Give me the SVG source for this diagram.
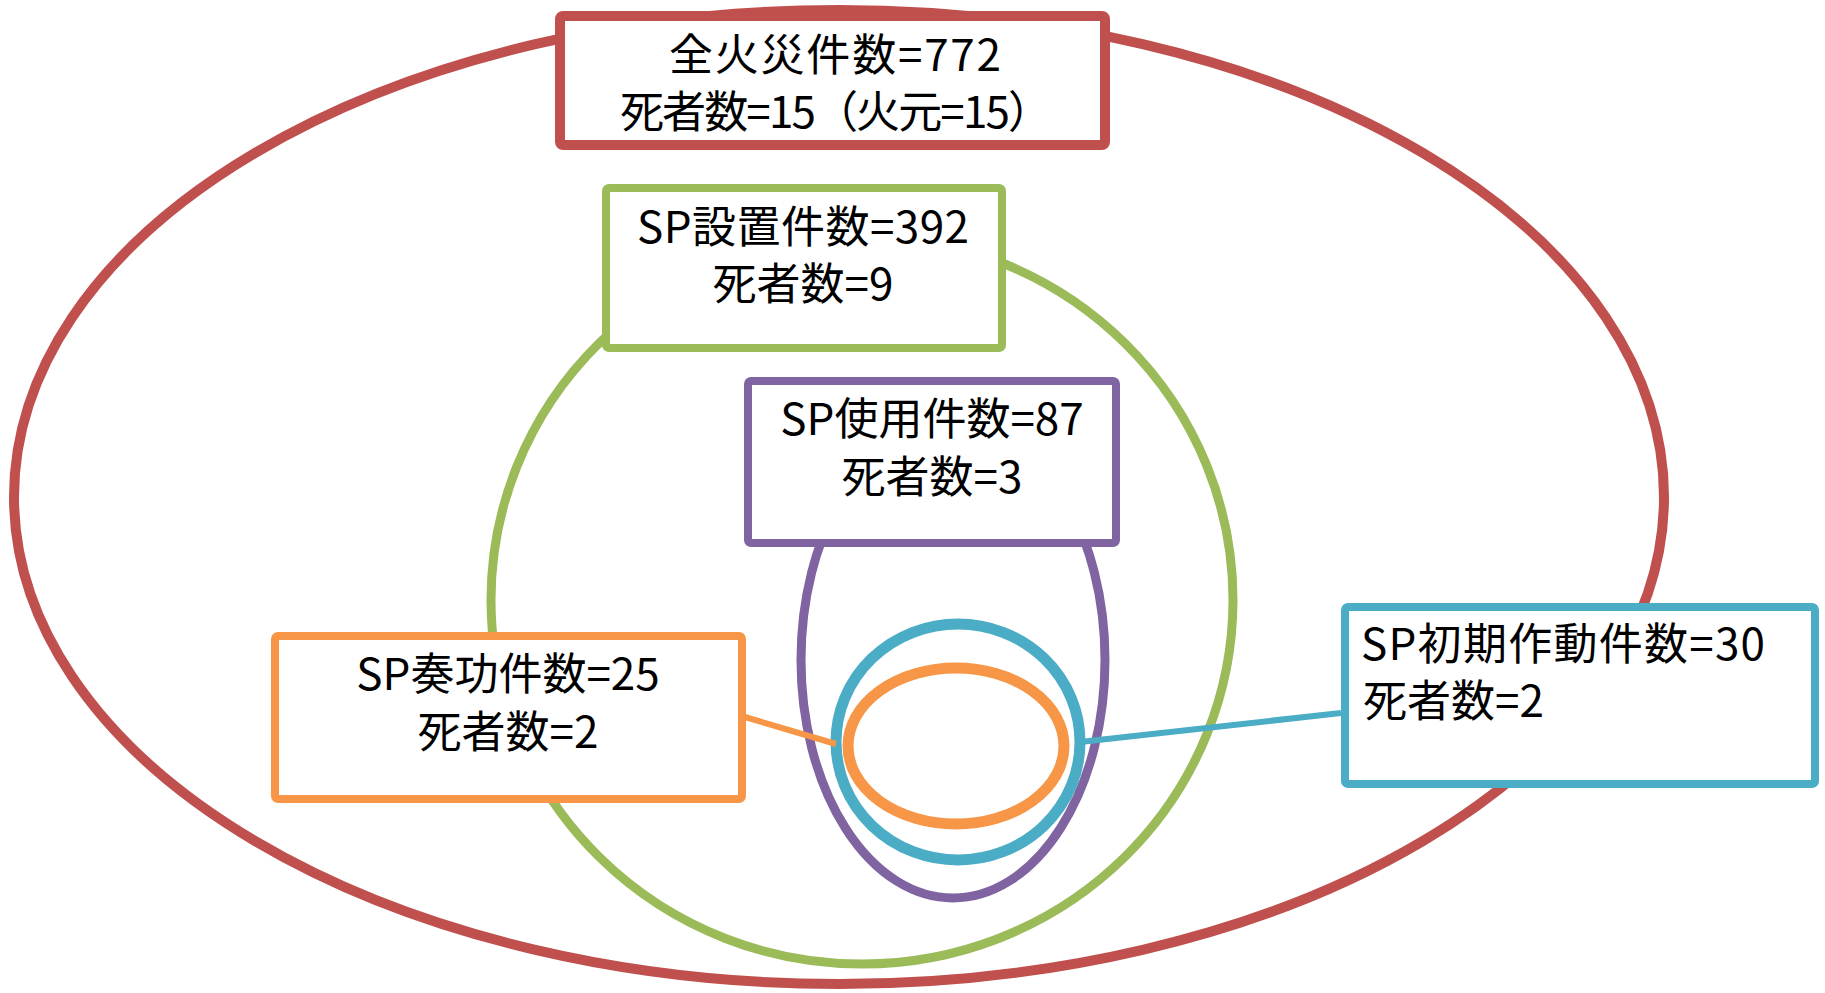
<svg xmlns="http://www.w3.org/2000/svg" width="1825" height="993" viewBox="0 0 1825 993">
<style>
.box{fill:#fff;}
.t{font-family:"Noto Sans CJK JP","Noto Sans CJK SC",sans-serif;font-size:44px;fill:#000;}
.c{text-anchor:middle;}
.red{stroke:#C0504D;}
.green{stroke:#9BBB59;}
.purple{stroke:#8064A2;}
.blue{stroke:#4BACC6;}
.orange{stroke:#F79646;}
.ring{fill:none;}
</style>
<rect width="1825" height="993" fill="#fff"/>
<g id="all-fires">
<ellipse class="ring red" cx="839" cy="497" rx="825" ry="487" stroke-width="10"/>
<rect class="box red" x="560" y="16" width="545" height="129" rx="3" stroke-width="10"/>
<text class="t c" x="835" y="71" textLength="332" lengthAdjust="spacing">全火災件数=772</text>
<text class="t c" x="836" y="128" textLength="432" lengthAdjust="spacing">死者数=15（火元=15）</text>
</g>
<g id="sp-installed">
<ellipse class="ring green" cx="862" cy="600" rx="371" ry="364" stroke-width="9"/>
<rect class="box green" x="606" y="188" width="396" height="160" rx="3" stroke-width="8"/>
<text class="t c" x="803" y="243" textLength="332" lengthAdjust="spacing">SP設置件数=392</text>
<text class="t c" x="803" y="300">死者数=9</text>
</g>
<g id="sp-used">
<ellipse class="ring purple" cx="953" cy="660" rx="152" ry="238" stroke-width="9"/>
<rect class="box purple" x="748" y="381" width="368" height="162" rx="3" stroke-width="8"/>
<text class="t c" x="932" y="435">SP使用件数=87</text>
<text class="t c" x="932" y="493">死者数=3</text>
</g>
<g id="sp-initial">
<ellipse class="ring blue" cx="958" cy="742" rx="122" ry="118" stroke-width="11"/>
<rect class="box blue" x="1345" y="607" width="470" height="177" rx="3" stroke-width="8"/>
<text class="t" x="1361" y="660" textLength="404" lengthAdjust="spacing">SP初期作動件数=30</text>
<text class="t" x="1363" y="717">死者数=2</text>
</g>
<g id="sp-success">
<ellipse class="ring orange" cx="956" cy="746" rx="108" ry="78" stroke-width="11"/>
<rect class="box orange" x="275" y="636" width="467" height="163" rx="3" stroke-width="8"/>
<text class="t c" x="508" y="690">SP奏功件数=25</text>
<text class="t c" x="508" y="748">死者数=2</text>
</g>
<g id="connectors" fill="none">
<line class="orange" x1="745" y1="717" x2="836" y2="744" stroke-width="6"/>
<line class="blue" x1="1080" y1="742" x2="1341" y2="713" stroke-width="6"/>
</g>
</svg>
